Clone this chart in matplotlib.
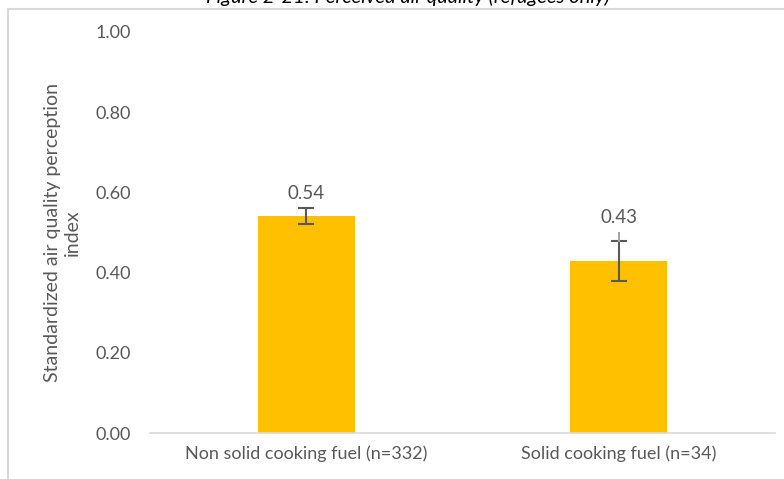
import matplotlib
matplotlib.use("Agg")
import matplotlib.pyplot as plt

categories = ["Non solid cooking fuel (n=332)", "Solid cooking fuel (n=34)"]
values = [0.54, 0.43]
err_low = [0.52, 0.38]
err_high = [0.56, 0.48]
faint_high = [None, 0.50]  # lighter extension visible above the second bar's cap
yticks = [0.0, 0.2, 0.4, 0.6, 0.8, 1.0]
title = "Figure 2-21: Perceived air quality (refugees only)"
ylabel = "Standardized air quality perception\nindex"

plt.rcParams["font.family"] = ["Lato", "DejaVu Sans"]
text_color = "#595959"

fig = plt.figure(figsize=(7.84, 4.79), dpi=100)
ax = fig.add_axes([150 / 784, 1 - 433 / 479, 625 / 784, 401 / 479])

x = list(range(len(categories)))
ax.bar(x, values, width=0.31, color="#FFC000", zorder=2)
yerr = [[v - lo for v, lo in zip(values, err_low)], [hi - v for v, hi in zip(values, err_high)]]
ax.errorbar(x, values, yerr=yerr, fmt="none", ecolor="#595959", elinewidth=1.5,
            capsize=6, capthick=1.5, zorder=3)
for xi, hi, fh in zip(x, err_high, faint_high):
    if fh is not None:
        ax.plot([xi, xi], [hi, fh], color="#a6a6a6", lw=1.5, zorder=3)

for xi, v, hi, fh in zip(x, values, err_high, faint_high):
    top = max(v, hi, fh or 0)
    ax.text(xi, top + 0.038, f"{v:.2f}", ha="center", va="center",
            fontsize=13.5, color=text_color)

ax.set_xlim(-0.5, 1.5)
ax.set_ylim(0, 1.0)
ax.set_yticks(yticks)
ax.set_yticklabels([f"{t:.2f}" for t in yticks])
ax.set_xticks(x)
ax.set_xticklabels(categories)
ax.tick_params(axis="both", length=0, labelsize=13, colors=text_color)
ax.tick_params(axis="y", pad=14)
ax.tick_params(axis="x", pad=9)
for side in ["top", "right", "left"]:
    ax.spines[side].set_visible(False)
ax.spines["bottom"].set_color("#d9d9d9")
ax.spines["bottom"].set_linewidth(1.2)
ax.set_ylabel(ylabel, fontsize=14, color=text_color)
ax.yaxis.set_label_coords(-0.111, 0.5)

# chart frame (top and left edges are visible in the crop)
fig.add_artist(plt.Line2D([8 / 784, 1], [1 - 9 / 479, 1 - 9 / 479], transform=fig.transFigure,
                          color="#d9d9d9", lw=1.5))
fig.add_artist(plt.Line2D([8 / 784, 8 / 784], [0, 1 - 9 / 479], transform=fig.transFigure,
                          color="#d9d9d9", lw=1.5))

fig.text(408 / 784, 1 - 3 / 479, title, ha="center", va="baseline", fontsize=14.5,
         style="italic", color="#000000")

fig.savefig("out.png", dpi=100)
